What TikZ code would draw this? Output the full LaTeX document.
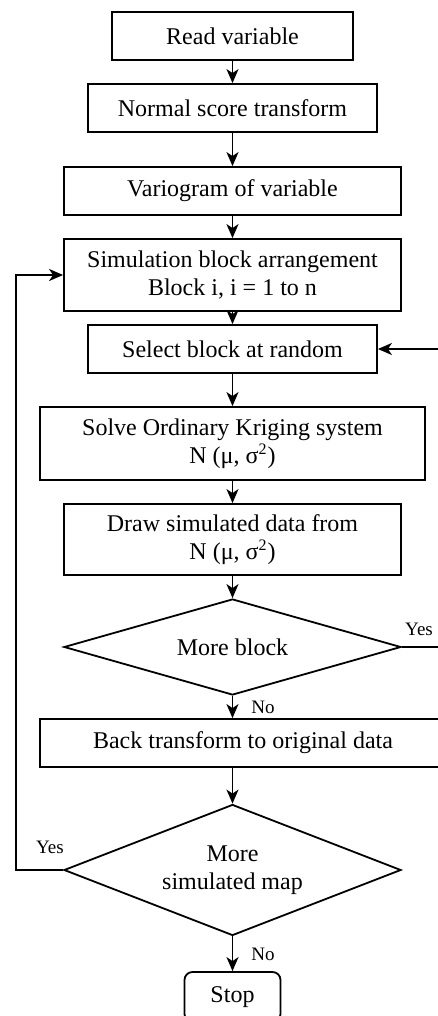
\documentclass[tikz,border=0pt]{standalone}
\usepackage{fontspec}
\setmainfont{Liberation Serif}
\usepackage{tikz}
\usetikzlibrary{shapes.geometric, arrows.meta, positioning, calc}

\begin{document}
\begin{tikzpicture}[
  x=0.5pt, y=-0.5pt,
  box/.style   = {rectangle, draw, line width=0.9pt, align=center,
                  font=\fontsize{12}{14}\selectfont, inner sep=0pt},
  decide/.style = {diamond, draw, line width=0.9pt, align=center,
                  font=\fontsize{12}{14}\selectfont, inner sep=0pt},
  lbl/.style   = {font=\fontsize{9.5}{11}\selectfont, inner sep=0pt},
  arr/.style   = {-{Stealth[length=7pt, width=6pt, inset=2pt]}, line width=0.9pt},
]
  \useasboundingbox (0,0) rectangle (438,1016);

  \node[box, minimum width=120.5pt, minimum height=24pt] (read)  at (232.5,36)  {Read variable};
  \node[box, minimum width=144.5pt, minimum height=24pt] (norm)  at (232.5,108) {Normal score transform};
  \node[box, minimum width=168.5pt, minimum height=24pt] (vario) at (232.5,191) {Variogram of variable};
  \node[box, minimum width=168.5pt, minimum height=36pt] (sim)   at (232.5,275) {Simulation block arrangement\\Block i, i = 1 to n};
  \node[box, minimum width=144.5pt, minimum height=24pt] (sel)   at (232.5,349) {Select block at random};
  \node[box, minimum width=192.5pt, minimum height=36.5pt] (solve) at (232.5,443.5) {Solve Ordinary Kriging system\\N (μ, σ\textsuperscript{2})};
  \node[box, minimum width=168.5pt, minimum height=35.5pt] (drw)  at (232.5,539.5) {Draw simulated data from\\N (μ, σ\textsuperscript{2})};
  \node[decide, aspect=3.51, minimum width=168.5pt, minimum height=48pt] (more) at (232.5,647) {More block};
  \node[box, minimum width=203pt, minimum height=24pt] (back)  at (243,743) {Back transform to original data};
  \node[decide, aspect=2.57, minimum width=168.5pt, minimum height=65.5pt] (again) at (232.5,870) {More\\simulated map};
  \node[box, rounded corners=4pt, minimum width=48pt, minimum height=25pt] (stop) at (232.5,997) {Stop};

  % main flow
  \draw[arr] (read)  -- (norm);
  \draw[arr] (norm)  -- (vario);
  \draw[arr] (vario) -- (sim);
  \draw[arr] (sim)   -- (sel);
  \draw[arr] (sel)   -- (solve);
  \draw[arr] (solve) -- (drw);
  \draw[arr] (drw)   -- (more);
  \draw[arr] (more)  -- (back.north -| more.south);
  \draw[arr] (back.south -| again.north) -- (again);
  \draw[arr] (again) -- (stop);

  % loops
  \coordinate (rt) at (439,647);
  \coordinate (lf) at (16,870);
  \draw[arr] (more.east) -- (rt) |- (sel.east);
  \draw[arr] (again.west) -- (lf) |- (sim.west);

  \node[lbl] (yes1) at (419,629) {Yes};
  \node[lbl] (yes2) at (50,847)  {Yes};
  \node[lbl, anchor=west] (no1) at (251,707) {No};
  \node[lbl, anchor=west] (no2) at (251,954) {No};
\end{tikzpicture}
\end{document}
